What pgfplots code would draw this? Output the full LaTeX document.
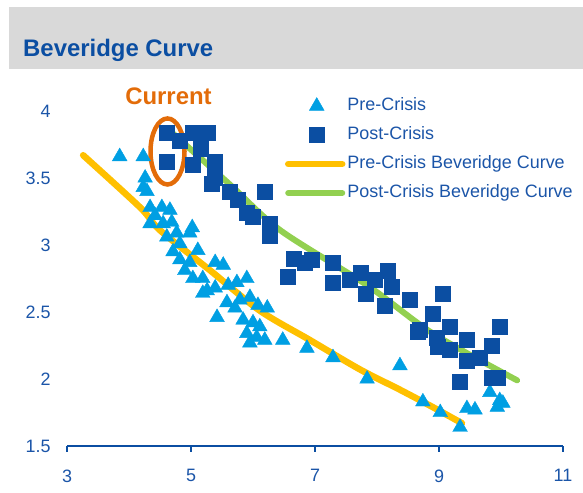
\documentclass[border=0pt]{standalone}
\usepackage{pgfplots}
\pgfplotsset{compat=1.18}
\usepackage{fontspec}
\setmainfont{Liberation Sans}
\definecolor{titleblue}{HTML}{0B4EA2}
\definecolor{lblue}{HTML}{1B55A8}
\definecolor{axblue}{HTML}{0B4EA2}
\definecolor{barGrey}{HTML}{D9D9D9}
\definecolor{triblue}{HTML}{009FE3}
\definecolor{sqblue}{HTML}{0B4EA2}
\definecolor{curveyellow}{HTML}{FFC000}
\definecolor{curvegreen}{HTML}{92D050}
\definecolor{curorange}{HTML}{E36C09}
\pgfplotsset{
  mylegimg/.style={legend image code/.code={\draw[mark repeat=2,mark phase=2,##1] plot coordinates {(3bp,0bp) (31.5bp,0bp) (57bp,0bp)};}}
}
\begin{document}
\begin{tikzpicture}[x=1bp,y=1bp]
\useasboundingbox (0,0) rectangle (583,493);
\fill[barGrey] (9,424) rectangle (583,485.5);
\node[anchor=base west, font=\bfseries\fontsize{24}{28}\selectfont, text=titleblue, inner sep=0pt] at (23,436) {Beveridge Curve};
\begin{axis}[
  at={(67bp,47bp)}, anchor=south west,
  scale only axis, width=496bp, height=335bp,
  xmin=3, xmax=11, ymin=1.5, ymax=4,
  xtick={3,5,7,9,11}, ytick={1.5,2,2.5,3,3.5,4},
  axis x line=bottom, axis y line=left,
  y axis line style={draw=none},
  ytick style={draw=none},
  x axis line style={-, draw=axblue, line width=1.6bp},
  xtick style={draw=axblue, line width=1.6bp},
  tick align=outside, major tick length=6bp,
  tick label style={font=\fontsize{18}{20}\selectfont, text=lblue},
  /pgf/number format/assume math mode=true,
  xticklabel style={yshift=-14bp},
  yticklabel style={xshift=-7bp},
  clip=false,
  legend cell align=left,
  legend style={draw=none, fill=none, at={(0.4395,1.046)}, anchor=north west,
    inner sep=0pt, outer sep=0pt, row sep=8bp,
    nodes={inner sep=2bp, text height=13bp, text depth=4bp, font=\fontsize{18}{20}\selectfont, text=lblue}},
]
\addplot[only marks, mark=triangle*, mark size=8.5bp, color=triblue, mylegimg] coordinates {
(3.85,3.66) (4.23,3.66) (4.26,3.50) (4.23,3.43) (4.29,3.40) (4.34,3.28) (4.53,3.28) (4.66,3.26)
(4.34,3.16) (4.55,3.16) (4.69,3.17) (5.02,3.13) (4.61,3.06) (4.77,3.09) (4.82,3.01) (5.11,2.96)
(4.71,2.95) (4.82,2.89) (4.98,2.87) (5.39,2.87) (5.52,2.85) (5.03,2.75) (5.19,2.75) (5.26,2.66)
(5.19,2.64) (5.39,2.68) (5.60,2.70) (5.74,2.72) (5.90,2.75) (5.42,2.46) (5.58,2.57) (5.71,2.53)
(5.95,2.61) (6.08,2.55) (6.23,2.53) (5.84,2.44) (6.00,2.42) (6.11,2.39) (5.90,2.34) (6.06,2.31)
(5.95,2.27) (6.19,2.29) (6.48,2.29) (6.87,2.23) (7.29,2.16) (8.37,2.10) (7.84,2.00) (8.74,1.83)
(9.02,1.75) (9.34,1.64) (9.45,1.78) (9.58,1.77) (9.82,1.90) (9.98,1.84) (9.94,1.79) (10.03,1.82)
(4.98,3.09) (5.79,2.59) (4.42,3.22) (4.90,2.81)
};
\addlegendentry{Pre-Crisis}
\addplot[only marks, mark=square*, mark size=7.5bp, color=sqblue, mylegimg] coordinates {
(4.60,3.84) (4.60,3.62) (4.82,3.78) (5.02,3.84) (5.27,3.84) (5.03,3.60) (5.15,3.72) (5.39,3.62)
(5.34,3.46) (5.39,3.50) (5.63,3.40) (5.76,3.34) (5.90,3.24) (6.00,3.21) (6.19,3.40) (6.27,3.16)
(6.27,3.07) (6.65,2.90) (6.56,2.76) (6.95,2.89) (6.84,2.87) (7.29,2.87) (7.29,2.72) (7.56,2.74)
(7.73,2.79) (7.81,2.64) (7.97,2.74) (8.18,2.81) (8.24,2.69) (8.13,2.55) (8.53,2.59) (9.06,2.64)
(8.90,2.49) (8.66,2.35) (8.97,2.31) (9.18,2.39) (8.98,2.24) (9.18,2.22) (9.45,2.29) (9.45,2.14)
(9.66,2.16) (9.85,2.25) (9.98,2.39) (9.34,1.98) (9.85,2.01) (9.95,2.01) (8.69,2.37)
};
\addlegendentry{Post-Crisis}
\addplot[smooth, no marks, color=curveyellow, line width=6.5bp, line cap=round, mylegimg] coordinates {
(3.26,3.67) (4.18,3.28) (4.50,3.11) (5.31,2.81) (6.11,2.51) (6.92,2.29) (7.73,2.07) (8.37,1.92) (8.90,1.79) (9.37,1.67)
};
\addlegendentry{Pre-Crisis Beveridge Curve}
\addplot[smooth, no marks, color=curvegreen, line width=6bp, line cap=round, mylegimg] coordinates {
(4.69,3.84) (5.63,3.45) (6.44,3.11) (7.84,2.70) (8.90,2.34) (10.26,1.99)
};
\addlegendentry{Post-Crisis Beveridge Curve}
\draw[curorange, line width=4.5bp] (axis cs:4.621,3.698) ellipse [x radius=17bp, y radius=33bp];
\node[anchor=base, font=\bfseries\fontsize{24}{28}\selectfont, text=curorange, inner sep=0pt] at (axis cs:4.637,4.045) {Current};
\end{axis}
\end{tikzpicture}
\end{document}
